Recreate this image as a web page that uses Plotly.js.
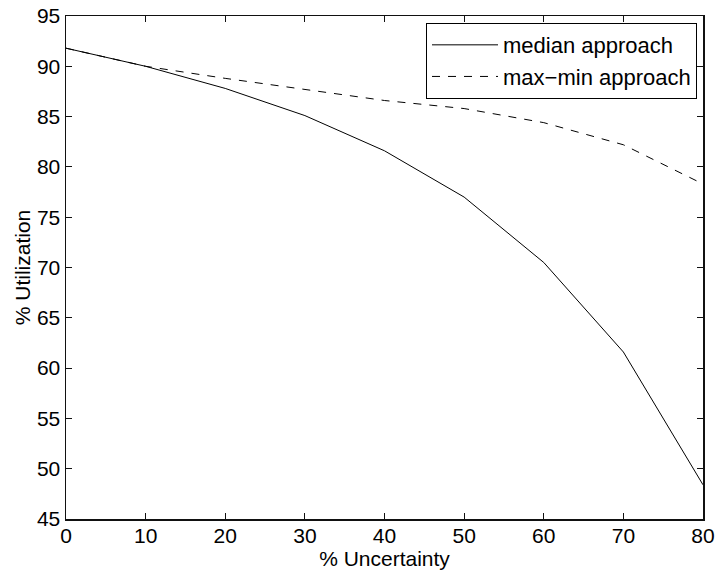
<!DOCTYPE html>
<html>
<head>
<meta charset="utf-8">
<script src="https://cdn.plot.ly/plotly-3.0.1.min.js"></script>
<style>html,body{margin:0;padding:0;background:#fff;}#chart{width:717px;height:571px;}</style>
</head>
<body>
<div id="chart"></div>
<script>
const uncertainty = [0, 10, 20, 30, 40, 50, 60, 70, 80];
const medianApproach = [91.8, 90.0, 87.8, 85.1, 81.6, 77.0, 70.5, 61.6, 48.4];
const maxMinApproach = [91.8, 90.0, 88.8, 87.7, 86.6, 85.8, 84.4, 82.2, 78.3];
const seriesNames = ["median approach", "max\u2212min approach"];
const xTicks = [0, 10, 20, 30, 40, 50, 60, 70, 80];
const yTicks = [45, 50, 55, 60, 65, 70, 75, 80, 85, 90, 95];

const FONT = "Liberation Sans, Arial, Helvetica, sans-serif";
const TICK_FS = 21;
const TITLE_FS = 21;
const LEGEND_FS = 22;

const traces = [
  {x: uncertainty, y: medianApproach, name: seriesNames[0], mode: "lines",
   line: {color: "#000", width: 1}},
  {x: uncertainty, y: maxMinApproach, name: seriesNames[1], mode: "lines",
   line: {color: "#000", width: 1, dash: "8px,8px"}}
];

const axisCommon = {
  showline: true, linecolor: "#111", linewidth: 1.5, mirror: "ticks",
  ticks: "inside", ticklen: 6, tickwidth: 1, tickcolor: "#111",
  showgrid: false, zeroline: false,
  tickfont: {family: FONT, size: TICK_FS, color: "#000"}
};

const layout = {
  width: 717, height: 571,
  margin: {l: 66, r: 14, t: 15.5, b: 52},
  paper_bgcolor: "#fff", plot_bgcolor: "#fff",
  font: {family: FONT, color: "#000"},
  showlegend: true,
  legend: {
    x: 0.9906, y: 0.986, xanchor: "right", yanchor: "top",
    bgcolor: "#fff", bordercolor: "#000", borderwidth: 1,
    font: {family: FONT, size: LEGEND_FS, color: "#000"},
    tracegroupgap: 0, itemwidth: 66
  },
  xaxis: Object.assign({}, axisCommon, {
    range: [0, 80], tickvals: xTicks, ticktext: xTicks.map(String),
    ticklabelstandoff: -3,
    title: {text: "% Uncertainty", font: {family: FONT, size: TITLE_FS, color: "#000"}, standoff: 0}
  }),
  yaxis: Object.assign({}, axisCommon, {
    range: [45, 95], tickvals: yTicks, ticktext: yTicks.map(String),
    title: {text: "% Utilization", font: {family: FONT, size: TITLE_FS, color: "#000"}, standoff: 0}
  })
};

Plotly.newPlot("chart", traces, layout, {staticPlot: true, displayModeBar: false});
</script>
</body>
</html>
